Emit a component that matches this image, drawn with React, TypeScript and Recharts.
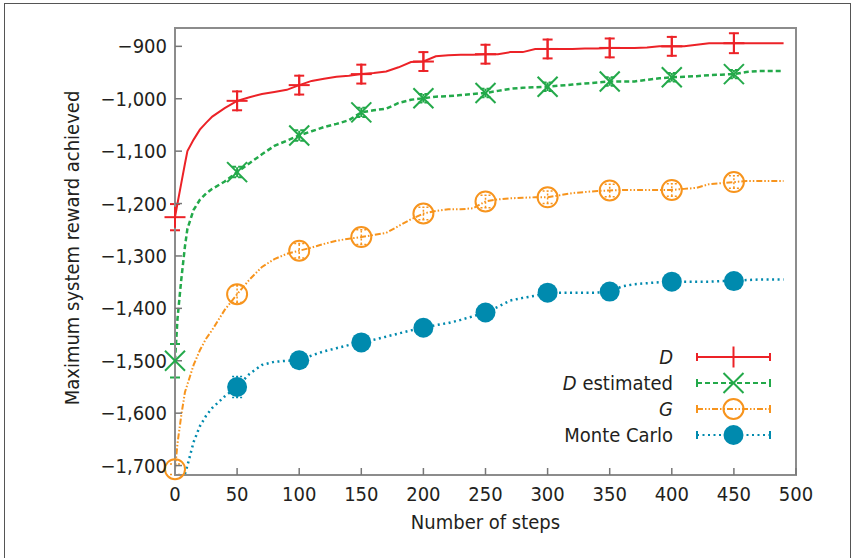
import React from 'react'
import { LineChart, Line, XAxis, YAxis, ErrorBar, ReferenceArea, Legend } from 'recharts'

const FONT = "'Liberation Sans Narrow', 'DejaVu Sans Condensed', 'Roboto', sans-serif"

// steps (x values), denser at the start where the curves rise steeply
const steps = [
  0, 2, 5, 8, 10, 15, 20, 25, 30,
  40, 50, 60, 70, 80, 90, 100, 110, 120, 130, 140, 150, 160, 170, 180, 190, 200,
  210, 220, 230, 240, 250, 260, 270, 280, 290, 300, 310, 320, 330, 340, 350,
  360, 370, 380, 390, 400, 410, 420, 430, 440, 450, 460, 470, 480, 490,
]

const dValues = [
  -1226, -1200, -1162, -1124, -1100, -1078, -1059, -1046, -1034,
  -1018, -1004, -997, -991, -987, -983, -974, -966, -962, -958, -956, -953, -951, -948, -940, -930, -929,
  -919, -917, -916, -916, -915, -915, -911, -911, -905, -905, -905, -905, -904, -904, -903,
  -903, -903, -902, -900, -900, -900, -897, -894, -894, -894, -894, -894, -894, -894,
]

const dEstValues = [
  -1500, -1420, -1346, -1282, -1248, -1212, -1193, -1181, -1172,
  -1158, -1140, -1123, -1106, -1090, -1080, -1070, -1062, -1054, -1048, -1041, -1026, -1022, -1019, -1008, -1002, -999,
  -996, -995, -993, -991, -989, -985, -981, -979, -978, -977, -975, -973, -971, -969, -967,
  -967, -967, -964, -961, -959, -958, -957, -955, -954, -953, -949, -947, -947, -947,
]

const gValues = [
  -1707, -1658, -1605, -1560, -1545, -1508, -1480, -1458, -1441,
  -1403, -1373, -1345, -1321, -1306, -1296, -1290, -1284, -1277, -1271, -1267, -1264, -1260, -1256, -1243, -1230, -1219,
  -1214, -1211, -1211, -1209, -1196, -1192, -1190, -1189, -1188, -1188, -1184, -1180, -1178, -1176, -1175,
  -1174, -1174, -1174, -1174, -1174, -1172, -1170, -1163, -1161, -1159, -1157, -1157, -1157, -1157,
]

const mcValues = [
  null, null, null, -1716, -1700, -1655, -1625, -1605, -1590,
  -1568, -1550, -1525, -1508, -1502, -1500, -1499, -1490, -1482, -1476, -1470, -1465, -1460, -1454, -1448, -1442, -1437,
  -1432, -1428, -1422, -1415, -1408, -1397, -1385, -1380, -1376, -1370, -1370, -1370, -1370, -1370, -1368,
  -1358, -1354, -1352, -1350, -1349, -1349, -1349, -1349, -1348, -1348, -1346, -1345, -1345, -1345,
]

// error bars, only at the marked steps
const markerSteps = [0, 50, 100, 150, 200, 250, 300, 350, 400, 450]
const dErr = [25, 18, 18, 18, 18, 18, 18, 18, 18, 19]
const dEstErr = [32, 10, 10, 9, 8, 8, 8, 8, 8, 8]
const gErr = [10, 16, 14, 14, 12, 12, 12, 12, 12, 12]
const mcErr = [0, 20, 10, 8, 8, 8, 8, 8, 8, 8]

const xTicks = [0, 50, 100, 150, 200, 250, 300, 350, 400, 450, 500]
const yTicks = [-1700, -1600, -1500, -1400, -1300, -1200, -1100, -1000, -900]

const RED = '#ec2227'
const GREEN = '#23a94a'
const ORANGE = '#f7941d'
const BLUE = '#008aae'

const data = steps.map((step, i) => {
  const m = markerSteps.indexOf(step)
  return {
    step,
    d: dValues[i],
    dEst: dEstValues[i],
    g: gValues[i],
    mc: mcValues[i],
    dErr: m >= 0 ? dErr[m] : null,
    dEstErr: m >= 0 ? dEstErr[m] : null,
    gErr: m >= 0 ? gErr[m] : null,
    mcErr: m >= 0 ? mcErr[m] : null,
  }
})

const fmt = (v: number) => (v < 0 ? '\u2212' : '') + Math.abs(v).toLocaleString('en-US')

function Marker({ kind, cx, cy }: { kind: string; cx: number; cy: number }) {
  if (kind === 'plus')
    return (
      <g stroke={RED} strokeWidth={2}>
        <line x1={cx - 10.5} y1={cy} x2={cx + 10.5} y2={cy} />
        <line x1={cx} y1={cy - 10.5} x2={cx} y2={cy + 10.5} />
      </g>
    )
  if (kind === 'cross')
    return (
      <g stroke={GREEN} strokeWidth={2}>
        <line x1={cx - 10} y1={cy - 10} x2={cx + 10} y2={cy + 10} />
        <line x1={cx - 10} y1={cy + 10} x2={cx + 10} y2={cy - 10} />
      </g>
    )
  if (kind === 'circle') return <circle cx={cx} cy={cy} r={10} fill="none" stroke={ORANGE} strokeWidth={2} />
  return <circle cx={cx} cy={cy} r={10} fill={BLUE} />
}

const makeDot = (kind: string) => (props: any) => {
  const { cx, cy, payload, index, value } = props
  if (value == null || markerSteps.indexOf(payload.step) < 0 || cx == null || cy == null)
    return <g key={`${kind}-${index}`} />
  return (
    <g key={`${kind}-${index}`}>
      <Marker kind={kind} cx={cx} cy={cy} />
    </g>
  )
}

const legendLabels: Record<string, React.ReactNode> = {
  d: <i>D</i>,
  dEst: (
    <>
      <i>D</i> estimated
    </>
  ),
  g: <i>G</i>,
  mc: 'Monte Carlo',
}

const legendStyle: Record<string, { color: string; dash?: string; kind: string }> = {
  d: { color: RED, kind: 'plus' },
  dEst: { color: GREEN, dash: '5 3', kind: 'cross' },
  g: { color: ORANGE, dash: '6 2 1.5 2 1.5 2', kind: 'circle' },
  mc: { color: BLUE, dash: '2 3.5', kind: 'dot' },
}

function LegendContent({ payload }: any) {
  return (
    <div style={{ width: 240 }}>
      {(payload || []).map((entry: any) => {
        const s = legendStyle[entry.dataKey]
        return (
          <div key={entry.dataKey} style={{ display: 'flex', alignItems: 'center', height: 26 }}>
            <div style={{ width: 113, textAlign: 'right', fontSize: 20, color: '#231f20', fontFamily: FONT, lineHeight: '26px' }}>
              {legendLabels[entry.dataKey]}
            </div>
            <svg width={82} height={26} style={{ marginLeft: 20 }}>
              <line x1={4} y1={13} x2={77} y2={13} stroke={s.color} strokeWidth={2} strokeDasharray={s.dash} />
              <line x1={4} y1={9} x2={4} y2={17} stroke={s.color} strokeWidth={2} />
              <line x1={77} y1={9} x2={77} y2={17} stroke={s.color} strokeWidth={2} />
              <Marker kind={s.kind} cx={40.5} cy={13} />
            </svg>
          </div>
        )
      })}
    </div>
  )
}

export default function App() {
  const tickStyle = { fill: '#231f20', fontSize: 20, fontFamily: FONT }
  return (
    <div style={{ position: 'relative', width: 856, height: 558, background: '#fff', fontFamily: FONT }}>
      <style>{'body{margin:0}'}</style>
      <div
        style={{
          position: 'absolute',
          left: 4,
          top: 3,
          width: 847,
          height: 570,
          border: '1.5px solid #555',
          boxSizing: 'border-box',
          pointerEvents: 'none',
        }}
      />
      <LineChart width={856} height={558} data={data} margin={{ top: 28, right: 60, left: 0, bottom: 0 }}>
        <ReferenceArea x1={0} x2={500} y1={-1718} y2={-865} fill="none" stroke="#8c8c8c" strokeWidth={2} ifOverflow="visible" />
        <XAxis
          dataKey="step"
          type="number"
          domain={[0, 500]}
          ticks={xTicks}
          height={83}
          tick={tickStyle}
          tickSize={-7}
          tickMargin={19}
          tickLine={{ stroke: '#777', strokeWidth: 1.5 }}
          axisLine={{ stroke: '#8c8c8c', strokeWidth: 2 }}
          label={{
            content: () => (
              <text x={485.5} y={529} textAnchor="middle" fontSize={20} fill="#231f20" fontFamily={FONT}>
                Number of steps
              </text>
            ),
          }}
        />
        <YAxis
          type="number"
          domain={[-1718, -865]}
          ticks={yTicks}
          width={175}
          tick={tickStyle}
          tickFormatter={fmt}
          tickSize={-7}
          tickMargin={15}
          tickLine={{ stroke: '#777', strokeWidth: 1.5 }}
          axisLine={{ stroke: '#8c8c8c', strokeWidth: 2 }}
          label={{
            content: () => (
              <text
                x={79}
                y={248}
                transform="rotate(-90 79 248)"
                textAnchor="middle"
                fontSize={20}
                fill="#231f20"
                fontFamily={FONT}
              >
                Maximum system reward achieved
              </text>
            ),
          }}
        />
        <Legend
          content={<LegendContent />}
          layout="horizontal"
          verticalAlign="middle"
          align="center"
          wrapperStyle={{ position: 'absolute', left: 560, top: 344, width: 240, height: 104 }}
        />
        <Line
          dataKey="d"
          name="D"
          stroke={RED}
          strokeWidth={2}
          dot={makeDot('plus')}
          activeDot={false}
          isAnimationActive={false}
        >
          <ErrorBar dataKey="dErr" width={5} stroke={RED} strokeWidth={2} direction="y" />
        </Line>
        <Line
          dataKey="dEst"
          name="D estimated"
          stroke={GREEN}
          strokeWidth={2.5}
          strokeDasharray="5 3"
          dot={makeDot('cross')}
          activeDot={false}
          isAnimationActive={false}
        >
          <ErrorBar dataKey="dEstErr" width={5} stroke={GREEN} strokeWidth={2} strokeDasharray="4 2" direction="y" />
        </Line>
        <Line
          dataKey="g"
          name="G"
          stroke={ORANGE}
          strokeWidth={2}
          strokeDasharray="6 2 1.5 2 1.5 2"
          dot={makeDot('circle')}
          activeDot={false}
          isAnimationActive={false}
        >
          <ErrorBar dataKey="gErr" width={5} stroke={ORANGE} strokeWidth={1.5} strokeDasharray="2 2" direction="y" />
        </Line>
        <Line
          dataKey="mc"
          name="Monte Carlo"
          stroke={BLUE}
          strokeWidth={2.5}
          strokeDasharray="2 3.5"
          dot={makeDot('dot')}
          activeDot={false}
          isAnimationActive={false}
        >
          <ErrorBar dataKey="mcErr" width={5} stroke={BLUE} strokeWidth={1.5} strokeDasharray="2 2" direction="y" />
        </Line>
      </LineChart>
    </div>
  )
}
